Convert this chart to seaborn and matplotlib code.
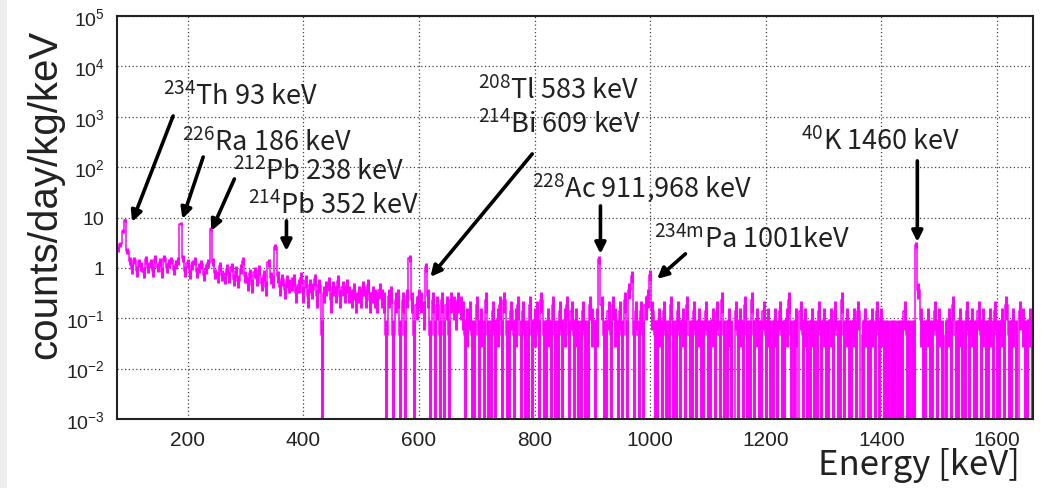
import numpy as np
import pandas as pd
import matplotlib
matplotlib.use("Agg")
import matplotlib.pyplot as plt
import matplotlib.ticker as mticker
from matplotlib.patches import Rectangle
import seaborn as sns

# counts in 4 keV bins (bins start at 78 keV)
counts_078 = [52, 64, 120, 190, 48, 30, 21, 31, 19, 28, 24, 18, 32, 22, 27, 19, 33, 23, 29, 18, 34, 22, 27, 31, 20]
counts_178 = [26, 30, 165, 34, 19, 27, 17, 25, 30, 18, 22, 26, 16, 21, 27, 128, 29, 17, 15, 24, 16, 14, 21, 15, 23]
counts_278 = [13, 19, 12, 21, 30, 15, 11, 17, 10, 18, 13, 20, 11, 16, 9, 28, 14, 12, 56, 15, 9, 13, 8, 12, 10]
counts_378 = [11, 13, 7, 10, 14, 7, 12, 6, 10, 8, 13, 6, 10, 1, 7, 9, 11, 5, 9, 7, 12, 6, 9, 7, 10]
counts_478 = [7, 6, 8, 5, 7, 6, 9, 6, 10, 5, 7, 6, 5, 8, 6, 5, 1, 6, 7, 1, 5, 6, 1, 5, 1]
counts_578 = [6, 34, 5, 1, 4, 6, 5, 3, 23, 6, 1, 5, 1, 4, 1, 5, 1, 4, 1, 5, 4, 3, 5, 4, 3]
counts_678 = [1, 2, 3, 1, 1, 4, 1, 2, 1, 5, 1, 1, 3, 1, 2, 4, 1, 5, 1, 1, 3, 1, 2, 4, 1]
counts_778 = [3, 1, 1, 4, 1, 2, 3, 1, 5, 1, 1, 2, 1, 4, 1, 1, 3, 1, 2, 4, 1, 3, 1, 2, 1]
counts_878 = [1, 3, 1, 1, 4, 2, 1, 2, 32, 4, 1, 1, 3, 1, 4, 2, 1, 3, 1, 5, 1, 8, 15, 1, 3]
counts_978 = [1, 3, 1, 4, 6, 16, 3, 1, 1, 2, 1, 3, 1, 1, 4, 1, 1, 3, 1, 2, 1, 4, 1, 1, 3]
counts_1078 = [1, 2, 1, 1, 3, 1, 1, 2, 1, 3, 1, 5, 1, 1, 2, 1, 0, 3, 1, 2, 1, 4, 1, 1, 5]
counts_1178 = [1, 2, 1, 1, 3, 1, 2, 1, 1, 2, 1, 3, 1, 1, 2, 5, 1, 1, 2, 0, 3, 1, 2, 1, 1]
counts_1278 = [2, 1, 1, 3, 1, 2, 1, 1, 2, 1, 3, 1, 1, 5, 1, 2, 1, 1, 2, 1, 3, 0, 1, 2, 1]
counts_1378 = [1, 2, 1, 3, 1, 2, 1, 1, 1, 1, 1, 1, 1, 1, 1, 3, 1, 1, 1, 1, 62, 8, 2, 1, 1]
counts_1478 = [2, 1, 1, 3, 1, 2, 1, 0, 1, 2, 1, 4, 1, 1, 2, 1, 1, 3, 1, 2, 1, 1, 3, 1, 2]
counts_1578 = [1, 1, 2, 1, 3, 1, 1, 2, 1, 4, 1, 1, 2, 1, 0, 3, 2, 1, 1, 2, 1]

per_count = 0.046  # counts/day/kg/keV for one count in a bin
bin_lo = 78
bin_w = 4

# peak labels: text, label anchor (keV, rate), arrow tail, arrow head
peak_labels = [r'$^{234}$Th 93 keV', r'$^{226}$Ra 186 keV', r'$^{212}$Pb 238 keV',
               r'$^{214}$Pb 352 keV', r'$^{208}$Tl 583 keV', r'$^{214}$Bi 609 keV',
               r'$^{228}$Ac 911,968 keV', r'$^{234m}$Pa 1001keV', r'$^{40}$K 1460 keV']
label_kev = [158, 190, 279, 305, 703, 703, 796, 1007, 1260]
label_rate = [1795, 222, 58.3, 12.3, 2330, 507, 27.2, 2.57, 230]
arrow_from = [(175, 1037), (227, 159), (281, 58.3), (371, 8.57), (796, 183),
              (914, 17.0), (1061, 1.90), (1462, 133)]
arrow_to = [(104, 8.18), (191, 9.38), (241, 5.42), (371, 2.17), (620, 0.663),
            (914, 1.90), (1012, 0.605), (1462, 3.28)]

ytick_vals = [1e-3, 1e-2, 1e-1, 1, 10, 1e2, 1e3, 1e4, 1e5]
ytick_text = [r'$10^{-3}$', r'$10^{-2}$', r'$10^{-1}$', '1', '10',
              r'$10^{2}$', r'$10^{3}$', r'$10^{4}$', r'$10^{5}$']

counts = np.concatenate([counts_078, counts_178, counts_278, counts_378, counts_478,
                         counts_578, counts_678, counts_778, counts_878, counts_978,
                         counts_1078, counts_1178, counts_1278, counts_1378,
                         counts_1478, counts_1578])
edges = bin_lo + bin_w * np.arange(len(counts) + 1)
df = pd.DataFrame({'energy': edges[:-1] + bin_w / 2, 'rate': counts * per_count})
df['err'] = np.sqrt(counts) * per_count
df = df.assign(lo=np.maximum(df.rate - df.err, 1e-4), hi=df.rate + df.err)

sns.set_theme(style='white')
plt.rcParams['font.family'] = ['Liberation Sans', 'DejaVu Sans']
plt.rcParams['mathtext.default'] = 'regular'

fig = plt.figure(figsize=(10.43, 4.89), dpi=100)
ax = fig.add_axes([0.1122, 0.1411, 0.8782, 0.8241])

sns.histplot(data=df, x='energy', weights='rate', bins=edges.tolist(), element='step',
             fill=False, color='#ff00ff', linewidth=1.1, ax=ax)
nz = df[df['rate'] > 0]
ax.errorbar(nz.energy, nz.rate, yerr=[nz.rate - nz.lo, nz.hi - nz.rate], fmt='none',
            ecolor='#ff00ff', elinewidth=2.1, capsize=0)
ax.set_yscale('log')
ax.set_xlim(78, 1662)
ax.set_ylim(1e-3, 1e5)

ax.xaxis.set_major_locator(mticker.MultipleLocator(200))
ax.xaxis.set_minor_locator(mticker.MultipleLocator(50))
ax.set_yticks(ytick_vals)
ax.set_yticklabels(ytick_text)
ax.yaxis.set_minor_locator(mticker.LogLocator(base=10, subs=np.arange(2, 10), numticks=20))
ax.yaxis.set_minor_formatter(mticker.NullFormatter())

ax.tick_params(axis='x', which='major', direction='in', length=7, width=1.2,
               labelsize=15, pad=8, colors='#222222')
ax.tick_params(axis='x', which='minor', direction='in', length=4, width=1.0, color='#222222')
ax.tick_params(axis='y', which='major', direction='in', length=12, width=1.2,
               labelsize=14, pad=9, colors='#222222')
ax.tick_params(axis='y', which='minor', direction='in', length=9, width=1.0, color='#666666')

ax.grid(True, which='major', linestyle=(0, (1, 2)), color='#444444', linewidth=0.9)
for s in ax.spines.values():
    s.set_color('#222222')
    s.set_linewidth(1.5)
ax.set_xlabel('')
ax.set_ylabel('')

for txt, xk, yr in zip(peak_labels, label_kev, label_rate):
    ax.text(xk, yr, txt, ha='left', va='baseline', fontsize=19.5,
            family='Noto Sans CJK JP', color='#222222')

for (x0, y0), (x1, y1) in zip(arrow_from, arrow_to):
    ax.annotate('', xy=(x1, y1), xytext=(x0, y0),
                arrowprops=dict(arrowstyle='-|>', color='black', lw=2.6,
                                mutation_scale=16, shrinkA=0, shrinkB=0))

fig.text(45 / 1043, 1 - 30 / 489, 'counts/day/kg/keV', rotation=90, ha='center',
         va='top', fontsize=29, color='#222222')
fig.text(1020 / 1043, 1 - 466 / 489, 'Energy [keV]', ha='right', va='center',
         fontsize=25, family='Noto Sans CJK JP', color='#222222')

fig.patches.append(Rectangle((0, 0), 7 / 1043, 1, transform=fig.transFigure,
                             facecolor='#eeeeee', edgecolor='none', zorder=-1))

fig.savefig('out.png', dpi=100)
